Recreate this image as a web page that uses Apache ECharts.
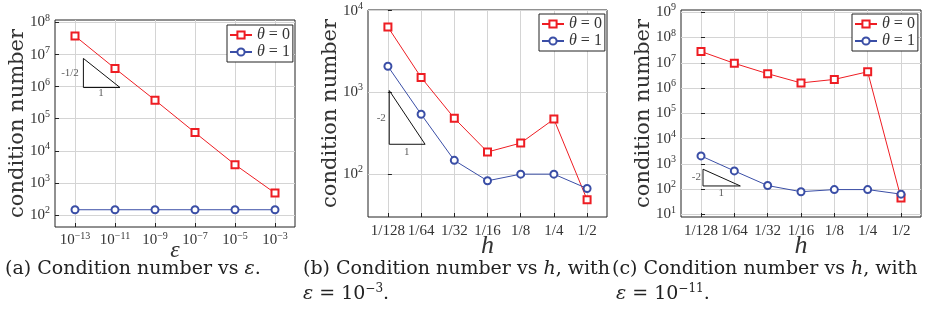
<!DOCTYPE html>
<html>
<head>
<meta charset="utf-8">
<script src="https://cdn.jsdelivr.net/npm/echarts@6/dist/echarts.min.js"></script>
<style>
html, body { margin: 0; padding: 0; background: #fff; }
#chart { width: 931px; height: 324px; }
</style>
</head>
<body>
<div id="chart"></div>
<script>
// (a) condition number vs eps (x = log10 eps)
const epsExp = [-13, -11, -9, -7, -5, -3];
const condEpsTheta0 = [3.8e7, 3.7e6, 3.8e5, 3.7e4, 3.7e3, 480];
const condEpsTheta1 = [145, 145, 145, 145, 145, 145];

// (b), (c) condition number vs h (x = index into hLabels)
const hLabels = ['1/128', '1/64', '1/32', '1/16', '1/8', '1/4', '1/2'];
const hIndex = [0, 1, 2, 3, 4, 5, 6];
const condHEps3Theta0 = [6300, 1520, 480, 185, 238, 468, 48];
const condHEps3Theta1 = [2080, 537, 146, 82, 99, 99, 66];
const condHEps11Theta0 = [2.8e7, 9.5e6, 3.7e6, 1.6e6, 2.2e6, 4.4e6, 45];
const condHEps11Theta1 = [2080, 530, 140, 80, 97, 97, 64];

// y tick values
const yTicksA = [1e2, 1e3, 1e4, 1e5, 1e6, 1e7, 1e8];
const yTicksB = [1e2, 1e3, 1e4];
const yTicksC = [1e1, 1e2, 1e3, 1e4, 1e5, 1e6, 1e7, 1e8, 1e9];

// slope triangles [x, y] and their labels
const triA = [[-12.58, 7.6e6], [-12.58, 9.4e5], [-10.75, 9.4e5], [-12.58, 7.6e6]];
const triALabels = [{ name: '-1/2', value: [-13.25, 2.7e6] }, { name: '1', value: [-11.7, 6.3e5] }];
const triB = [[0.04, 1050], [0.04, 230], [1.12, 230], [0.04, 1050]];
const triBLabels = [{ name: '-2', value: [-0.2, 480] }, { name: '1', value: [0.57, 185] }];
const triC = [[0.06, 620], [0.06, 135], [1.18, 135], [0.06, 620]];
const triCLabels = [{ name: '-2', value: [-0.14, 290] }, { name: '1', value: [0.61, 70] }];

const RED = '#ee1d23';
const BLUE = '#3a4ea6';
const SERIF = 'Liberation Serif';
const WIDE = 'DejaVu Serif';
const TXT = '#333';

const sup = {
	b: { fontFamily: SERIF, fontSize: 15, color: TXT },
	e: { fontFamily: SERIF, fontSize: 10, color: TXT, padding: [0, 0, 9, 0] }
};

let chart = echarts.init(document.getElementById('chart'));

const gridBase = { show: true, borderColor: '#222', borderWidth: 1, backgroundColor: 'transparent' };

const yAxisOf = (idx, ticks, min, max) => ({
	type: 'log',
	gridIndex: idx,
	min: min,
	max: max,
	name: 'condition number',
	nameLocation: 'middle',
	nameGap: 27,
	nameMoveOverlap: false,
	nameTextStyle: { fontFamily: WIDE, fontSize: 21, color: TXT },
	axisLine: { show: false },
	axisTick: { show: true, inside: true, length: 4, customValues: ticks, lineStyle: { color: '#222' } },
	axisLabel: {
		customValues: ticks,
		margin: 5,
		formatter: v => '{b|10}{e|' + Math.round(Math.log10(v)) + '}',
		rich: sup
	},
	splitLine: { show: true, lineStyle: { color: '#d4d4d4', width: 1 } }
});

const hAxisOf = idx => ({
	type: 'value',
	gridIndex: idx,
	min: -0.6,
	max: 6.6,
	name: 'h',
	nameLocation: 'middle',
	nameGap: 16,
	nameMoveOverlap: false,
	nameTextStyle: { fontFamily: SERIF, fontStyle: 'italic', fontSize: 26, color: TXT },
	axisLine: { show: false },
	axisTick: { show: true, inside: true, length: 4, customValues: hIndex, lineStyle: { color: '#222' } },
	axisLabel: {
		customValues: hIndex,
		margin: 7,
		fontFamily: SERIF, fontSize: 15, color: TXT,
		formatter: v => hLabels[Math.round(v)]
	},
	splitLine: { show: true, lineStyle: { color: '#d4d4d4', width: 1 } }
});

const lineSeries = (name, idx, xs, ys, color, symbol) => ({
	name: name,
	type: 'line',
	xAxisIndex: idx,
	yAxisIndex: idx,
	data: xs.map((x, i) => [x, ys[i]]),
	symbol: symbol,
	symbolSize: 7,
	itemStyle: { color: color, borderWidth: 1 },
	lineStyle: { color: color, width: 1 },
	z: 5
});

const triSeries = (idx, pts) => ({
	type: 'line',
	xAxisIndex: idx,
	yAxisIndex: idx,
	data: pts,
	symbol: 'none',
	silent: true,
	lineStyle: { color: '#111', width: 1 },
	z: 4
});

const triLabelSeries = (idx, pts) => ({
	type: 'scatter',
	xAxisIndex: idx,
	yAxisIndex: idx,
	data: pts,
	symbolSize: 0,
	silent: true,
	label: { show: true, position: 'inside', formatter: '{b}', fontFamily: SERIF, fontSize: 11, color: TXT }
});

const legendOf = (left, top) => ({
	data: ['θ = 0', 'θ = 1'],
	orient: 'vertical',
	left: left,
	top: top,
	itemWidth: 22,
	itemHeight: 9,
	itemGap: 1,
	padding: [2, 3, 2, 2],
	borderColor: '#222',
	borderWidth: 1,
	backgroundColor: '#fff',
	selectedMode: false,
	formatter: n => n.replace('θ', '{i|θ}'),
	textStyle: {
		fontFamily: SERIF, fontSize: 16, color: TXT,
		rich: { i: { fontFamily: SERIF, fontStyle: 'italic', fontSize: 16, color: TXT } }
	}
});

const capStyle = { fontFamily: WIDE, fontSize: 19, fill: '#222' };
const capRich = {
	i: { fontFamily: WIDE, fontStyle: 'italic', fontSize: 19, fill: '#222' },
	s: { fontFamily: WIDE, fontSize: 12, fill: '#222', padding: [0, 0, 11, 0] }
};

let option = {
	animation: false,
	grid: [
		Object.assign({ left: 55, top: 20, width: 240, height: 207 }, gridBase),
		Object.assign({ left: 368, top: 10, width: 239, height: 207 }, gridBase),
		Object.assign({ left: 681, top: 10, width: 240, height: 207 }, gridBase)
	],
	legend: [legendOf(227, 25), legendOf(539, 14), legendOf(852, 14)],
	xAxis: [
		{
			type: 'value',
			gridIndex: 0,
			min: -14,
			max: -2,
			name: 'ε',
			nameLocation: 'middle',
			nameGap: 12,
			nameMoveOverlap: false,
			nameTextStyle: { fontFamily: SERIF, fontStyle: 'italic', fontSize: 24, color: TXT },
			axisLine: { show: false },
			axisTick: { show: true, inside: true, length: 4, customValues: epsExp, lineStyle: { color: '#222' } },
			axisLabel: {
				customValues: epsExp,
				margin: 4,
				formatter: e => '{b|10}{e|−' + (-e) + '}',
				rich: sup
			},
			splitLine: { show: true, lineStyle: { color: '#d4d4d4', width: 1 } }
		},
		hAxisOf(1),
		hAxisOf(2)
	],
	yAxis: [
		yAxisOf(0, yTicksA, 42, 1.2e8),
		yAxisOf(1, yTicksB, 29.5, 1.02e4),
		yAxisOf(2, yTicksC, 8, 1.22e9)
	],
	series: [
		lineSeries('θ = 0', 0, epsExp, condEpsTheta0, RED, 'emptyRect'),
		lineSeries('θ = 1', 0, epsExp, condEpsTheta1, BLUE, 'emptyCircle'),
		lineSeries('θ = 0', 1, hIndex, condHEps3Theta0, RED, 'emptyRect'),
		lineSeries('θ = 1', 1, hIndex, condHEps3Theta1, BLUE, 'emptyCircle'),
		lineSeries('θ = 0', 2, hIndex, condHEps11Theta0, RED, 'emptyRect'),
		lineSeries('θ = 1', 2, hIndex, condHEps11Theta1, BLUE, 'emptyCircle'),
		triSeries(0, triA), triLabelSeries(0, triALabels),
		triSeries(1, triB), triLabelSeries(1, triBLabels),
		triSeries(2, triC), triLabelSeries(2, triCLabels)
	],
	graphic: [
		{ type: 'text', left: 5, top: 260, style: Object.assign({ text: '(a) Condition number vs {i|ε}.', rich: capRich }, capStyle) },
		{ type: 'text', left: 303, top: 260, style: Object.assign({ text: '(b) Condition number vs {i|h}, with', rich: capRich }, capStyle) },
		{ type: 'text', left: 303, top: 283, style: Object.assign({ text: '{i|ε} = 10{s|−3}.', rich: capRich }, capStyle) },
		{ type: 'text', left: 612, top: 260, style: Object.assign({ text: '(c) Condition number vs {i|h}, with', rich: capRich }, capStyle) },
		{ type: 'text', left: 616, top: 283, style: Object.assign({ text: '{i|ε} = 10{s|−11}.', rich: capRich }, capStyle) }
	]
};
chart.setOption(option);
</script>
</body>
</html>
